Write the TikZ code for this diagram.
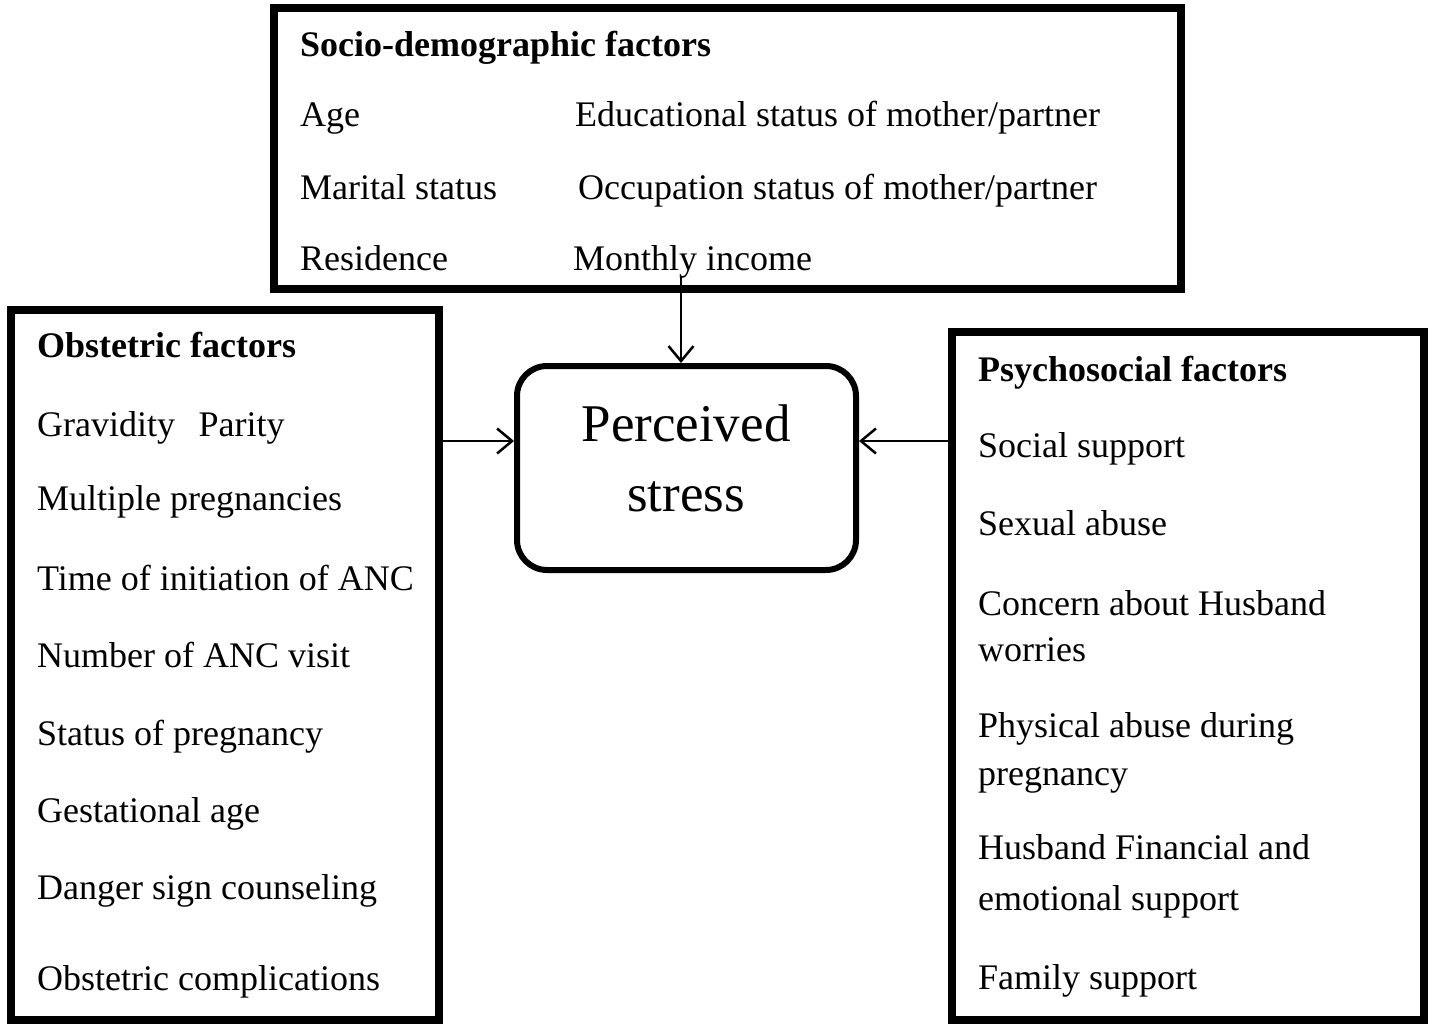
\documentclass[tikz,border=0pt]{standalone}
\usepackage{fontspec}
\setmainfont{Liberation Serif}
\usetikzlibrary{arrows.meta}

\begin{document}
\begin{tikzpicture}[x=1pt,y=-1pt,
    factorbox/.style={draw, line width=8pt, inner sep=0pt},
    item/.style={anchor=base west, inner sep=0pt, font=\fontsize{36}{43}\selectfont},
    head/.style={item, font=\fontsize{36}{43}\selectfont\bfseries},
    bigtext/.style={anchor=base, inner sep=0pt, font=\fontsize{53}{64}\selectfont},
    link/.style={line width=2.5pt, -{Straight Barb[length=15pt,width=25pt,line width=2.5pt]}}]
  \useasboundingbox (0,0) rectangle (1433,1027);

  % the three groups of factors
  \node[factorbox, minimum width=907pt, minimum height=281pt] (soc) at (727.5,148.5) {};
  \node[factorbox, minimum width=428pt, minimum height=710pt] (obst) at (225,665) {};
  \node[factorbox, minimum width=472pt, minimum height=688pt] (psy) at (1188,676) {};

  % outcome
  \node[draw, line width=6pt, rounded corners=30pt, minimum width=339pt,
        minimum height=204pt] (stress) at (686.5,468) {};
  \node[bigtext] (perc) at (686,441) {Perceived};
  \node[bigtext] (strs) at (686,511) {stress};

  % socio-demographic
  \node[head] (sochead) at (300,57) {Socio-demographic factors};
  \foreach \y/\txt [count=\i] in {127/Age, 200/Marital status, 270/Residence}
    \node[item] (socl\i) at (300,\y) {\txt};
  \node[item] (socr1) at (575,127) {Educational status of mother/partner};
  \node[item] (socr2) at (578,200) {Occupation status of mother/partner};
  \node[item] (socr3) at (573,270) {Monthly income};

  % obstetric
  \node[head] (obshead) at (37,357) {Obstetric factors};
  \foreach \y/\txt [count=\i] in {436/Gravidity\hspace{0.65em}Parity, 510/Multiple pregnancies,
      590/Time of initiation of ANC, 667/Number of ANC visit, 745/Status of pregnancy,
      822/Gestational age, 899/Danger sign counseling, 990/Obstetric complications}
    \node[item] (obs\i) at (37,\y) {\txt};

  % psychosocial
  \node[head] (psyhead) at (978,381) {Psychosocial factors};
  \foreach \y/\txt [count=\i] in {457/Social support, 535/Sexual abuse,
      615/Concern about Husband, 661/worries, 737/Physical abuse during, 785/pregnancy,
      859/Husband Financial and, 910/emotional support, 989/Family support}
    \node[item] (psy\i) at (978,\y) {\txt};

  % arrows
  \coordinate (socout) at (681,277);
  \draw[link] (socout) -- (socout |- stress.north);
  \draw[link] (obst.east |- perc.base) -- (stress.west |- perc.base);
  \draw[link] (psy.west |- perc.base) -- (stress.east |- perc.base);
\end{tikzpicture}
\end{document}
